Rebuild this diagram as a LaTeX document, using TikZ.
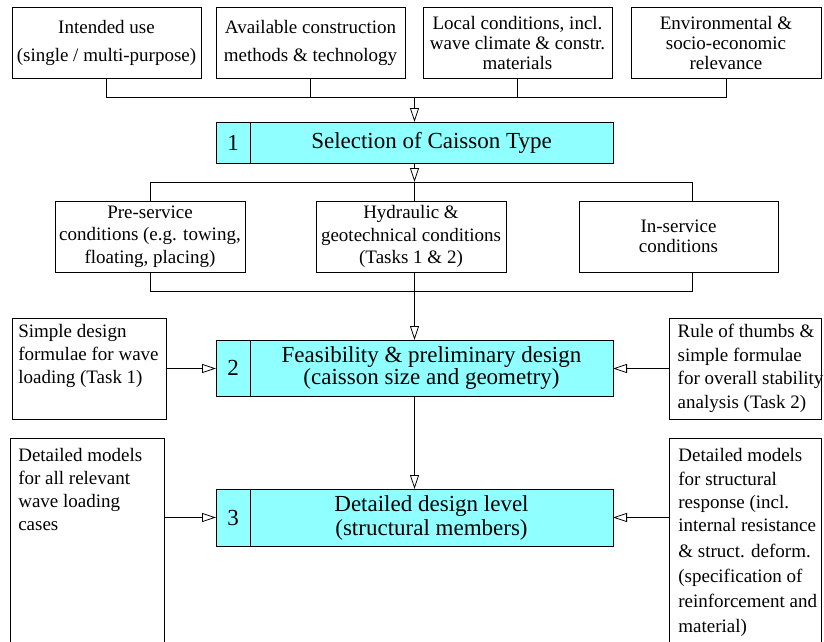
\documentclass[tikz,border=0pt]{standalone}
\usepackage{fontspec}
\setmainfont{Liberation Serif}
\usetikzlibrary{arrows.meta}
\definecolor{stagecyan}{RGB}{143,255,255}
\begin{document}
\begin{tikzpicture}[x=1pt,y=-1pt,
  every node/.style={inner sep=0pt, outer sep=0pt},
  line/.style={line width=0.8pt},
  tip/.style={line width=0.8pt, -{Triangle[open, length=14pt, width=9pt]}},
  box/.style={draw, line width=0.8pt, align=center, font=\fontsize{19}{#1}\selectfont},
  box/.default=23,
  frame/.style={draw, line width=0.8pt},
  note/.style={align=left, anchor=north west, font=\fontsize{19}{#1}\selectfont},
  note/.default=23,
  stage/.style={draw, line width=0.8pt, fill=stagecyan, minimum width=397pt},
  stagetxt/.style={align=center, font=\fontsize{23}{#1}\selectfont},
  stagetxt/.default=23
]
\useasboundingbox (0,0) rectangle (824,641);
\clip (0,0) rectangle (824,641);

% influencing factors
\node[box=28, minimum width=189pt, minimum height=71pt] (A) at (106.5,42.5) {Intended use\\(single / multi-purpose)};
\node[box=28, minimum width=189pt, minimum height=71pt] (B) at (310.5,42.5) {Available construction\\methods \& technology};
\node[box=20, minimum width=189pt, minimum height=71pt] (C) at (517.5,42.5) {Local conditions, incl.\\wave climate \& constr.\\materials};
\node[box=20, minimum width=190pt, minimum height=71pt] (D) at (726,42.5) {Environmental \&\\socio-economic\\relevance};

% stage 1
\node[stage, minimum height=41pt] (s1) at (414.5,142.5) {};
\draw[line] ([xshift=34pt]s1.north west) -- ([xshift=34pt]s1.south west);
\node[stagetxt] (s1n) at (233,142.5) {1};
\node[stagetxt] (s1t) at (431.5,142.5) {Selection of Caisson Type};

% conditions
\node[box=22.5, minimum width=190pt, minimum height=71pt] (E) at (150,236.5) {Pre-service\\conditions (e.g. towing,\\floating, placing)};
\node[box=22.5, minimum width=190pt, minimum height=71pt] (F) at (411,236.5) {Hydraulic \&\\geotechnical conditions\\(Tasks 1 \& 2)};
\node[box=20, minimum width=199pt, minimum height=71pt] (G) at (678.5,236.5) {In-service\\conditions};

% stage 2
\node[stage, minimum height=56pt] (s2) at (414.5,368) {};
\draw[line] ([xshift=34pt]s2.north west) -- ([xshift=34pt]s2.south west);
\node[stagetxt] (s2n) at (233,368) {2};
\node[stagetxt=22] (s2t) at (431.5,368) {Feasibility \& preliminary design\\(caisson size and geometry)};

\node[frame, minimum width=154pt, minimum height=101pt] (H) at (89,368.5) {};
\node[note] (Ht) at ([xshift=6.3pt, yshift=-6.7pt]H.north west) {Simple design\\formulae for wave\\loading (Task 1)};
\node[frame, minimum width=152pt, minimum height=101pt] (I) at (745,368.5) {};
\node[note=23.5] (It) at ([xshift=8.7pt, yshift=-6.3pt]I.north west) {Rule of thumbs \&\\simple formulae\\for overall stability\\analysis (Task 2)};

% stage 3
\node[stage, minimum height=57pt] (s3) at (414.5,517.5) {};
\draw[line] ([xshift=34pt]s3.north west) -- ([xshift=34pt]s3.south west);
\node[stagetxt] (s3n) at (233,517.5) {3};
\node[stagetxt=24] (s3t) at (431.5,517.5) {Detailed design level\\(structural members)};

\node[frame, minimum width=153.6pt, minimum height=222pt] (J) at (87.5,549) {};
\node[note] (Jt) at ([xshift=7.6pt, yshift=-10.7pt]J.north west) {Detailed models\\for all relevant\\wave loading\\cases};
\node[frame, minimum width=151.7pt, minimum height=222pt] (K) at (745.2,549) {};
\node[note=23.3] (Kt) at ([xshift=9pt, yshift=-10.7pt]K.north west) {Detailed models\\for structural\\response (incl.\\internal resistance\\[2.5pt]\& struct. deform.\\[1.7pt](specification of\\[1.7pt]reinforcement and\\[1.7pt]material)};

% connectors
\coordinate (bus1) at (414.5,97);
\draw[line] (A.south) |- (D.south |- bus1) -- (D.south);
\draw[line] (B.south) -- (B.south |- bus1);
\draw[line] (C.south) -- (C.south |- bus1);
\draw[tip] (bus1) -- (s1.north);

\coordinate (bus2) at (414.5,182);
\coordinate (Gin) at ([xshift=13.5pt]G.north);
\draw[tip] (s1.south) -- (bus2);
\draw[line] (E.north) |- (Gin |- bus2) -- (Gin);
\draw[line] (bus2) -- (bus2 |- F.north);

\coordinate (bus3) at (414.5,291);
\coordinate (Gout) at ([xshift=13.5pt]G.south);
\draw[line] (E.south) |- (Gout |- bus3) -- (Gout);
\draw[tip] (bus3 |- F.south) -- (s2.north);

\draw[tip] (H.east) -- (H.east -| s2.west);
\draw[tip] (I.west) -- (I.west -| s2.east);
\draw[tip] (s2.south) -- (s3.north);
\draw[tip] (s3.west -| J.east) -- (s3.west);
\draw[tip] (s3.east -| K.west) -- (s3.east);
\end{tikzpicture}
\end{document}
